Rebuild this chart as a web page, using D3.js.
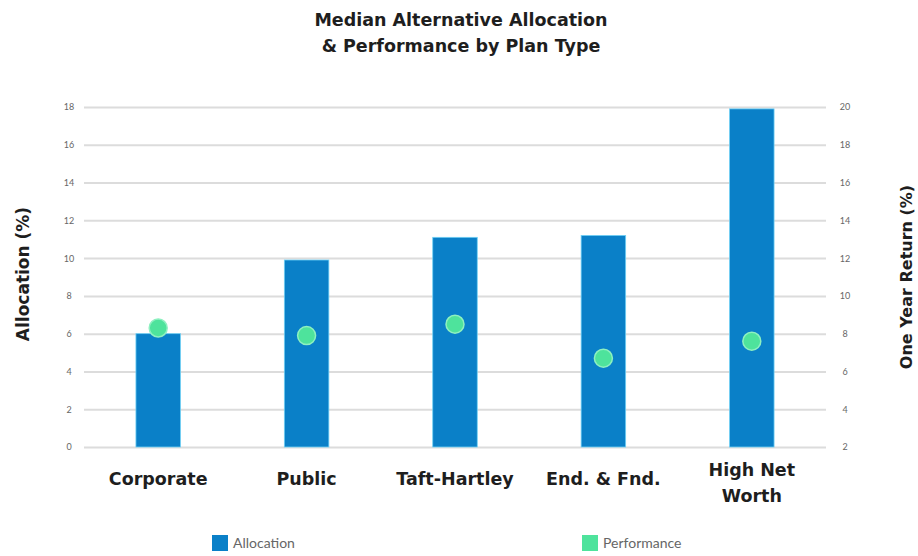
<!DOCTYPE html>
<html>
<head>
<meta charset="utf-8">
<script src="https://cdn.jsdelivr.net/npm/d3@7"></script>
<style>
  html, body { margin: 0; padding: 0; background: #fff; }
  svg { display: block; font-family: "DejaVu Sans", sans-serif; }
</style>
</head>
<body>
<svg id="chart" width="918" height="556"></svg>
<script>
// Plan types and their median values
const categories = ["Corporate", "Public", "Taft-Hartley", "End. & Fnd.", "High Net Worth"];
const allocation = [6.0, 9.9, 11.1, 11.2, 17.9];   // left axis, %
const performance = [8.3, 7.9, 8.5, 6.7, 7.6];     // right axis, one-year return %
const leftTicks = [0, 2, 4, 6, 8, 10, 12, 14, 16, 18];
const rightTicks = [2, 4, 6, 8, 10, 12, 14, 16, 18, 20];
const categoryLines = [["Corporate"], ["Public"], ["Taft-Hartley"], ["End. & Fnd."], ["High Net", "Worth"]];

const svg = d3.select("#chart");
const margin = { left: 84, right: 92, top: 107, bottom: 109 };
const W = 918, H = 556;
const innerW = W - margin.left - margin.right;

const x = d3.scaleBand().domain(categories)
  .range([margin.left, W - margin.right]).paddingInner(0.7).paddingOuter(0.35);
const yL = d3.scaleLinear().domain([0, 18]).range([H - margin.bottom, margin.top]);
const yR = d3.scaleLinear().domain([2, 20]).range([H - margin.bottom, margin.top]);

const blue = "#0a80c8";
const green = "#4ee39c";
const ink = "#1e1e1e";

// Gridlines
svg.append("g")
  .attr("transform", `translate(${margin.left},0)`)
  .call(d3.axisLeft(yL).tickValues(leftTicks).tickSize(-innerW).tickFormat(""))
  .call(g => g.select(".domain").remove())
  .call(g => g.selectAll("line").attr("stroke", "#dcdcdc").attr("stroke-width", 2));

// Left tick labels
svg.append("g")
  .attr("transform", `translate(${margin.left - 10},0)`)
  .call(d3.axisLeft(yL).tickValues(leftTicks).tickSize(0).tickPadding(0))
  .call(g => g.select(".domain").remove())
  .call(g => g.selectAll("text").attr("fill", "#666").attr("font-size", 9)
    .attr("font-family", "Lato, sans-serif").attr("text-anchor", "middle").attr("dx", -5));

// Right tick labels
svg.append("g")
  .attr("transform", `translate(${W - margin.right + 10},0)`)
  .call(d3.axisRight(yR).tickValues(rightTicks).tickSize(0).tickPadding(0))
  .call(g => g.select(".domain").remove())
  .call(g => g.selectAll("text").attr("fill", "#666").attr("font-size", 9)
    .attr("font-family", "Lato, sans-serif").attr("text-anchor", "middle").attr("dx", 9));

// Bars
svg.append("g").selectAll("rect")
  .data(categories)
  .join("rect")
  .attr("x", d => x(d))
  .attr("width", x.bandwidth())
  .attr("y", (d, i) => yL(allocation[i]))
  .attr("height", (d, i) => yL(0) - yL(allocation[i]))
  .attr("fill", blue)
  .attr("stroke", "#6fd0f5")
  .attr("stroke-width", 0.8);

// Performance dots
svg.append("g").selectAll("circle")
  .data(categories)
  .join("circle")
  .attr("cx", d => x(d) + x.bandwidth() / 2)
  .attr("cy", (d, i) => yR(performance[i]))
  .attr("r", 9)
  .attr("fill", green)
  .attr("stroke", "#8ef0c0")
  .attr("stroke-width", 1.5);

// Category labels
const catG = svg.append("g");
categories.forEach((c, i) => {
  const cx = x(c) + x.bandwidth() / 2;
  const t = catG.append("text")
    .attr("x", cx)
    .attr("y", categoryLines[i].length > 1 ? 476 : 485)
    .attr("text-anchor", "middle")
    .attr("font-size", 17.5)
    .attr("font-weight", 700)
    .attr("fill", ink);
  categoryLines[i].forEach((line, j) => {
    t.append("tspan").attr("x", cx).attr("dy", j === 0 ? 0 : 26).text(line);
  });
});

// Title
const title = svg.append("text")
  .attr("x", 461).attr("y", 26)
  .attr("text-anchor", "middle")
  .attr("font-size", 17.5)
  .attr("font-weight", 700)
  .attr("fill", ink);
title.append("tspan").attr("x", 461).attr("dy", 0).text("Median Alternative Allocation");
title.append("tspan").attr("x", 461).attr("dy", 26).text("& Performance by Plan Type");

// Axis titles
svg.append("text")
  .attr("transform", `translate(29,274) rotate(-90)`)
  .attr("text-anchor", "middle")
  .attr("font-size", 17).attr("font-weight", 700).attr("fill", ink)
  .text("Allocation (%)");

svg.append("text")
  .attr("transform", `translate(912,277) rotate(-90)`)
  .attr("text-anchor", "middle")
  .attr("font-size", 16).attr("font-weight", 700).attr("fill", ink)
  .text("One Year Return (%)");

// Legend
const legend = [
  { label: "Allocation", color: blue, x: 212 },
  { label: "Performance", color: green, x: 582 }
];
const lg = svg.append("g").selectAll("g").data(legend).join("g")
  .attr("transform", d => `translate(${d.x},535)`);
lg.append("rect").attr("width", 16).attr("height", 16).attr("fill", d => d.color);
lg.append("text").attr("x", 21).attr("y", 13)
  .attr("font-family", "Lato, sans-serif")
  .attr("font-size", 14).attr("fill", "#666").text(d => d.label);
</script>
</body>
</html>
